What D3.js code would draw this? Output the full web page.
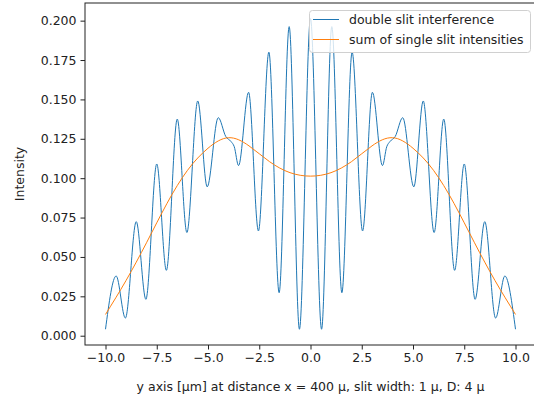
<!DOCTYPE html>
<html>
<head>
<meta charset="utf-8">
<script src="https://cdn.jsdelivr.net/npm/d3@7"></script>
<style>
  body { margin: 0; background: #fff; }
  text { font-family: "DejaVu Sans", sans-serif; }
</style>
</head>
<body>
<script>
// double slit curve (peaks and troughs)
const slitX = [-10.0, -9.48, -9.03, -8.5, -8.03, -7.5, -7.03, -6.5, -6.03, -5.5, -5.04,
  -4.5, -4.13, -3.88, -3.72, -3.51, -3.02, -2.54, -2.03, -1.53, -1.04, -0.54, 0,
  0.54, 1.04, 1.53, 2.03, 2.54, 3.02, 3.51, 3.72, 3.88, 4.13, 4.5,
  5.04, 5.5, 6.03, 6.5, 7.03, 7.5, 8.03, 8.5, 9.03, 9.48, 10.0];
const slitY = [0.0041, 0.0379, 0.0112, 0.0724, 0.0231, 0.109, 0.0415, 0.1375, 0.0655, 0.149, 0.0945,
  0.1384, 0.1264, 0.1233, 0.120, 0.108, 0.1545, 0.0665, 0.180, 0.0273, 0.1962, 0.0041, 0.2013,
  0.0041, 0.1962, 0.0273, 0.180, 0.0665, 0.1545, 0.108, 0.120, 0.1233, 0.1264, 0.1384,
  0.0945, 0.149, 0.0655, 0.1375, 0.0415, 0.109, 0.0231, 0.0724, 0.0112, 0.0379, 0.0041];

// sum of single slit intensities
const sumX = [-10, -9, -8, -7, -6, -5, -4, -3, -2, -1, 0, 1, 2, 3, 4, 5, 6, 7, 8, 9, 10];
const sumY = [0.0135, 0.035, 0.059, 0.084, 0.105, 0.119, 0.1257, 0.1205, 0.1105, 0.1035, 0.1013,
  0.1035, 0.1105, 0.1205, 0.1257, 0.119, 0.105, 0.084, 0.059, 0.035, 0.0135];

const xTicks = [-10, -7.5, -5, -2.5, 0, 2.5, 5, 7.5, 10];
const yTicks = [0, 0.025, 0.05, 0.075, 0.1, 0.125, 0.15, 0.175, 0.2];
const seriesNames = ["double slit interference", "sum of single slit intensities"];
const seriesColors = ["#1f77b4", "#ff7f0e"];

const W = 534, H = 400;
const m = {left: 85, right: 536, top: 3, bottom: 345};
const fs = 12.5;

const svg = d3.select("body").append("svg")
  .attr("width", W).attr("height", H);

const x = d3.scaleLinear().domain([-11, 11]).range([m.left, m.right]);
const y = d3.scaleLinear().domain([-0.0059, 0.2112]).range([m.bottom, m.top]);

const line = d3.line()
  .x(d => x(d[0]))
  .y(d => y(d[1]));

svg.append("path")
  .datum(d3.zip(slitX, slitY))
  .attr("d", line.curve(d3.curveMonotoneX))
  .attr("fill", "none")
  .attr("stroke", seriesColors[0])
  .attr("stroke-width", 1);

svg.append("path")
  .datum(d3.zip(sumX, sumY))
  .attr("d", line.curve(d3.curveNatural))
  .attr("fill", "none")
  .attr("stroke", seriesColors[1])
  .attr("stroke-width", 1);

// axes
const xAxis = svg.append("g")
  .attr("transform", "translate(0," + m.bottom + ")")
  .call(d3.axisBottom(x).tickValues(xTicks).tickFormat(d3.format(".1f"))
    .tickSizeInner(4.5).tickSizeOuter(0).tickPadding(4));
const yAxis = svg.append("g")
  .attr("transform", "translate(" + m.left + ",0)")
  .call(d3.axisLeft(y).tickValues(yTicks).tickFormat(d3.format(".3f"))
    .tickSizeInner(4.5).tickSizeOuter(0).tickPadding(4));

[xAxis, yAxis].forEach(a => {
  a.selectAll("text").attr("font-size", fs).attr("fill", "#222")
    .style("font-family", "DejaVu Sans");
  a.selectAll("line").attr("stroke", "#222");
  a.select(".domain").remove();
});

// spines
svg.append("rect")
  .attr("x", m.left).attr("y", m.top)
  .attr("width", m.right - m.left).attr("height", m.bottom - m.top)
  .attr("fill", "none").attr("stroke", "#222").attr("stroke-width", 1);

svg.append("text")
  .attr("x", (m.left + m.right) / 2).attr("y", 391)
  .attr("text-anchor", "middle")
  .attr("font-size", fs).attr("fill", "#222")
  .text("y axis [μm] at distance x = 400 μ, slit width: 1 μ, D: 4 μ");

svg.append("text")
  .attr("transform", "translate(24," + (m.top + m.bottom) / 2 + ") rotate(-90)")
  .attr("text-anchor", "middle")
  .attr("font-size", fs).attr("fill", "#222")
  .text("Intensity");

// legend
const lg = svg.append("g");
lg.append("rect")
  .attr("x", 309.5).attr("y", 10.5)
  .attr("width", 221).attr("height", 42)
  .attr("rx", 3)
  .attr("fill", "#fff").attr("fill-opacity", 0.8)
  .attr("stroke", "#d0d0d0");
seriesNames.forEach((name, i) => {
  const yy = 19.5 + i * 20;
  lg.append("line")
    .attr("x1", 313).attr("x2", 339)
    .attr("y1", yy).attr("y2", yy)
    .attr("stroke", seriesColors[i]).attr("stroke-width", 1);
  lg.append("text")
    .attr("x", 349).attr("y", yy + 4.5)
    .attr("font-size", fs).attr("fill", "#222")
    .text(name);
});
</script>
</body>
</html>
